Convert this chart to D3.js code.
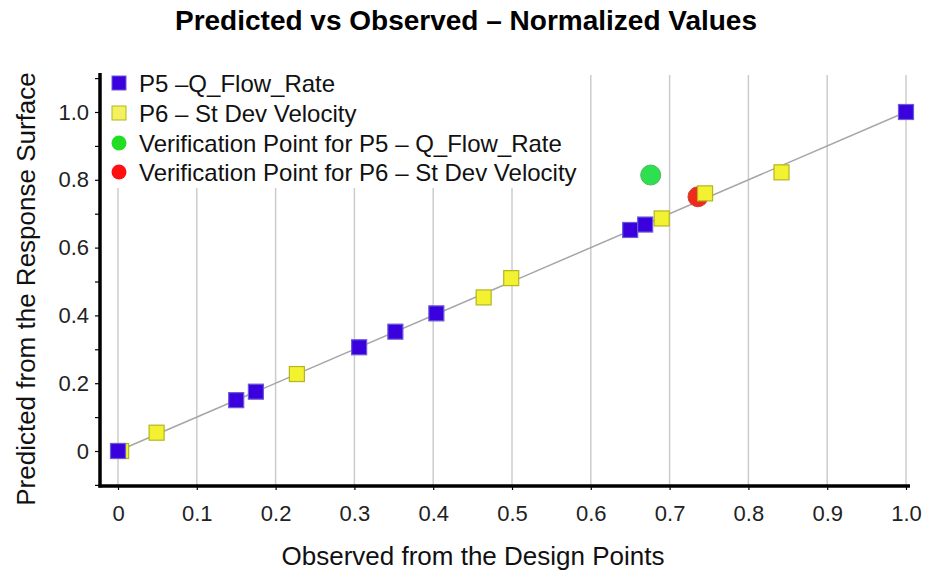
<!DOCTYPE html>
<meta charset="utf-8">
<style>
    body { margin: 0; background: #fff; }
    text { font-family: "Liberation Sans", Arial, sans-serif; }
</style>
<body>
<script src="https://cdn.jsdelivr.net/npm/d3@7"></script>
<script>

    // data (observed, predicted)
    var p5Obs  = [0, 0.150, 0.175, 0.306, 0.352, 0.404, 0.650, 0.669, 1.0];
    var p5Pred = [0, 0.150, 0.175, 0.306, 0.352, 0.406, 0.652, 0.668, 1.0];
    var p6Obs  = [0.004, 0.049, 0.227, 0.464, 0.499, 0.690, 0.745, 0.842];
    var p6Pred = [0, 0.054, 0.227, 0.453, 0.510, 0.686, 0.760, 0.822];
    var verP5 = [0.676, 0.814];
    var verP6 = [0.736, 0.750];
    var xTicks = [0, 0.1, 0.2, 0.3, 0.4, 0.5, 0.6, 0.7, 0.8, 0.9, 1.0];
    var yTicks = [0, 0.2, 0.4, 0.6, 0.8, 1.0];
    var legendLabels = ["P5 \u2013Q_Flow_Rate", "P6 \u2013 St Dev Velocity",
        "Verification Point for P5 \u2013 Q_Flow_Rate", "Verification Point for P6 \u2013 St Dev Velocity"];

    var W = 929, H = 576;
    var svg = d3.select("body").append("svg")
        .attr("width", W).attr("height", H);

    // scales fitted to pixel positions of the reference
    var x = d3.scaleLinear().domain([0, 1]).range([118, 906]);
    var y = d3.scaleLinear().domain([0, 1]).range([451, 112]);
    var xLeft = 100, xRight = 910, yTop = 75, yBottom = 486;

    // vertical grid
    svg.append("g").selectAll("line")
        .data(xTicks).enter().append("line")
        .attr("x1", d => x(d)).attr("x2", d => x(d))
        .attr("y1", yTop).attr("y2", yBottom)
        .attr("stroke", "#cccccc").attr("stroke-width", 1.5);

    // diagonal reference line
    svg.append("line")
        .attr("x1", x(0)).attr("y1", y(0))
        .attr("x2", x(1)).attr("y2", y(1))
        .attr("stroke", "#a6a6a6").attr("stroke-width", 1.5);

    // axes
    var yAxis = d3.axisLeft(y)
        .tickValues(d3.range(-0.1, 1.11, 0.1))
        .tickSize(5)
        .tickFormat(d => {
            var r = Math.round(d * 10) / 10;
            if (yTicks.indexOf(r) < 0) return "";
            return r === 0 ? "0" : r.toFixed(1);
        });
    var gy = svg.append("g").attr("transform", "translate(" + xLeft + ",0)").call(yAxis);
    gy.select(".domain").remove();
    gy.selectAll("line").attr("stroke", "#000").attr("stroke-width", 1.2);
    gy.selectAll("text").attr("font-size", 22).attr("fill", "#222").attr("dx", -3)
        .attr("font-family", "Liberation Sans, Arial, sans-serif");

    var xAxis = d3.axisBottom(x)
        .tickValues(xTicks)
        .tickSize(4)
        .tickFormat(d => d === 0 ? "0" : d.toFixed(1));
    var gx = svg.append("g").attr("transform", "translate(0," + yBottom + ")").call(xAxis);
    gx.select(".domain").remove();
    gx.selectAll("line").attr("stroke", "#000").attr("stroke-width", 1.2);
    gx.selectAll("text").attr("font-size", 22).attr("fill", "#222").attr("dy", "1.25em")
        .attr("font-family", "Liberation Sans Narrow, Arial Narrow, sans-serif");

    svg.append("line").attr("x1", xLeft).attr("x2", xLeft)
        .attr("y1", yTop - 2).attr("y2", yBottom + 1.5)
        .attr("stroke", "#000").attr("stroke-width", 3.5);
    svg.append("line").attr("x1", xLeft - 1.5).attr("x2", xRight)
        .attr("y1", yBottom).attr("y2", yBottom)
        .attr("stroke", "#000").attr("stroke-width", 3.5);

    // legend background hides grid
    svg.append("rect").attr("x", 104).attr("y", 66)
        .attr("width", 480).attr("height", 122).attr("fill", "#fff");

    // points
    svg.append("circle").attr("cx", x(verP6[0])).attr("cy", y(verP6[1])).attr("r", 10)
        .attr("fill", "#ee2a1c").attr("stroke", "#d04030");
    svg.append("circle").attr("cx", x(verP5[0])).attr("cy", y(verP5[1])).attr("r", 10)
        .attr("fill", "#2ee050").attr("stroke", "#4cb85a");

    var s = 15;
    svg.append("g").selectAll("rect")
        .data(p6Obs.map((d, i) => [d, p6Pred[i]])).enter().append("rect")
        .attr("x", d => x(d[0]) - s / 2).attr("y", d => y(d[1]) - s / 2)
        .attr("width", s).attr("height", s)
        .attr("fill", "#f2f230").attr("stroke", "#b5b520").attr("stroke-width", 1.2);
    svg.append("g").selectAll("rect")
        .data(p5Obs.map((d, i) => [d, p5Pred[i]])).enter().append("rect")
        .attr("x", d => x(d[0]) - s / 2).attr("y", d => y(d[1]) - s / 2)
        .attr("width", s).attr("height", s)
        .attr("fill", "#3a00de").attr("stroke", "#6a5ad8").attr("stroke-width", 1.2);

    // legend
    var legY = [83, 113, 143, 172];
    var leg = svg.append("g");
    leg.append("rect").attr("x", 112).attr("y", legY[0] - 7).attr("width", 14).attr("height", 14)
        .attr("fill", "#3a00de").attr("stroke", "#6a5ad8");
    leg.append("rect").attr("x", 112).attr("y", legY[1] - 7).attr("width", 14).attr("height", 14)
        .attr("fill", "#f2f260").attr("stroke", "#b5b520");
    leg.append("circle").attr("cx", 119).attr("cy", legY[2]).attr("r", 7.5)
        .attr("fill", "#22dd22");
    leg.append("circle").attr("cx", 119).attr("cy", legY[3]).attr("r", 7.5)
        .attr("fill", "#ff1010");
    leg.selectAll("text").data(legendLabels).enter().append("text")
        .attr("x", 139).attr("y", (d, i) => legY[i])
        .attr("dy", "0.36em")
        .attr("font-size", 24).attr("fill", "#111")
        .text(d => d);

    // titles
    svg.append("text").attr("x", 466).attr("y", 30)
        .attr("text-anchor", "middle").attr("font-size", 28).attr("font-weight", "bold")
        .text("Predicted vs Observed \u2013 Normalized Values");
    svg.append("text").attr("x", 473).attr("y", 565)
        .attr("text-anchor", "middle").attr("font-size", 26).attr("fill", "#111")
        .text("Observed from the Design Points");
    svg.append("text")
        .attr("transform", "translate(35,289) rotate(-90)")
        .attr("text-anchor", "middle").attr("font-size", 26).attr("fill", "#111")
        .text("Predicted from the Response Surface");

</script>
</body>
